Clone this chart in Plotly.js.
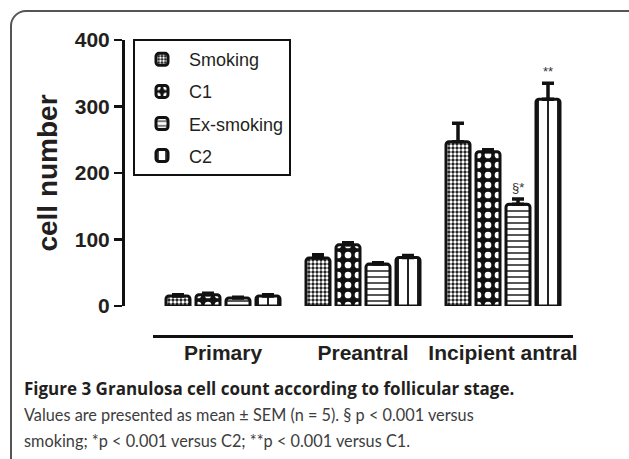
<!DOCTYPE html>
<html><head><meta charset="utf-8">
<script src="https://cdn.plot.ly/plotly-3.0.1.min.js"></script>
<style>
html,body{margin:0;padding:0;background:#fff;}
body{width:629px;height:459px;overflow:hidden;position:relative;}
#frame{position:absolute;left:10px;top:10px;width:700px;height:600px;border:2px solid #555;border-radius:16px;box-sizing:border-box;}
#plot{position:absolute;left:0;top:0;width:629px;height:459px;}
</style></head>
<body><div id="frame"></div><div id="plot"></div>
<script>
const categories = ['Primary', 'Preantral', 'Incipient antral'];
const seriesNames = ['Smoking', 'C1', 'Ex-smoking', 'C2'];
const smoking = [15, 72, 247];
const c1 = [17, 92, 232];
const exSmoking = [12, 63, 153];
const c2 = [15, 73, 311];
const smokingSem = [2, 5, 28];
const c1Sem = [2, 3, 3];
const exSmokingSem = [1, 2, 8];
const c2Sem = [2, 3, 24];
const noLowerError = [0, 0, 0];
const yTicks = [0, 100, 200, 300, 400];
const sigLabels = [null, null, '§*', '**'];

const W = 629, H = 459;
const M = {l: 123, r: 56, t: 40, b: 123};
const bargap = 1 - 120 / 140;
const ink = '#231f20';

const patterns = [
  {shape: '.', fgcolor: '#ffffff', bgcolor: '#111111', size: 4, solidity: 0.55},
  {shape: '.', fgcolor: '#ffffff', bgcolor: '#111111', size: 10, solidity: 0.35},
  {shape: '-', fgcolor: '#444444', bgcolor: '#ffffff', size: 6, solidity: 0.3},
  {shape: '|', fgcolor: '#222222', bgcolor: '#ffffff', size: 10, solidity: 0.2}
];
const values = [smoking, c1, exSmoking, c2];
const sems = [smokingSem, c1Sem, exSmokingSem, c2Sem];

const traces = seriesNames.map((name, i) => ({
  type: 'bar',
  name: name,
  x: categories,
  y: values[i],
  legendgroup: 'g' + i,
  marker: {
    color: '#ffffff',
    line: {color: '#111111', width: 3},
    pattern: Object.assign({fillmode: 'replace'}, patterns[i])
  },
  error_y: {
    type: 'data', symmetric: false,
    array: sems[i], arrayminus: noLowerError,
    color: '#111111', thickness: 3.5, width: 6
  },
  hoverinfo: 'x+y'
}));

const paperW = W - M.l - M.r;
const xDomain = [30 / paperW, 1];
const plotW = paperW * (xDomain[1] - xDomain[0]);
const slot = plotW / categories.length * (1 - bargap) / seriesNames.length;

const annotations = [];
sigLabels.forEach((lab, i) => {
  if (!lab) return;
  const k = categories.length - 1;
  annotations.push({
    x: categories[k], y: values[i][k] + sems[i][k],
    xref: 'x', yref: 'y',
    text: lab, showarrow: false,
    xshift: (i - (seriesNames.length - 1) / 2) * slot,
    yanchor: 'bottom', yshift: 2,
    font: {family: 'Liberation Sans, Arial, sans-serif', size: 13, color: '#333'}
  });
});
const captionX = 22 - M.l;
const axisBottom = H - M.b;
annotations.push({
  xref: 'paper', yref: 'paper', x: 0, y: 0, xanchor: 'left', yanchor: 'middle',
  xshift: captionX, yshift: -(388 - axisBottom),
  text: '<b>Figure 3 Granulosa cell count according to follicular stage.</b>',
  showarrow: false, align: 'left',
  font: {family: 'Open Sans, sans-serif', size: 17, color: '#231f20'}
});
annotations.push({
  xref: 'paper', yref: 'paper', x: 0, y: 0, xanchor: 'left', yanchor: 'middle',
  xshift: captionX, yshift: -(414 - axisBottom),
  text: 'Values are presented as mean ± SEM (n = 5). § p &lt; 0.001 versus',
  showarrow: false, align: 'left',
  font: {family: 'Lato, sans-serif', size: 16.3, color: '#3d3d3d'}
});
annotations.push({
  xref: 'paper', yref: 'paper', x: 0, y: 0, xanchor: 'left', yanchor: 'middle',
  xshift: captionX, yshift: -(440 - axisBottom),
  text: 'smoking; *p &lt; 0.001 versus C2; **p &lt; 0.001 versus C1.',
  showarrow: false, align: 'left',
  font: {family: 'Lato, sans-serif', size: 16.3, color: '#3d3d3d'}
});

const layout = {
  width: W, height: H,
  margin: M,
  paper_bgcolor: 'rgba(0,0,0,0)',
  plot_bgcolor: 'rgba(0,0,0,0)',
  barmode: 'group',
  bargap: bargap,
  bargroupgap: 0.2,
  barcornerradius: 3,
  showlegend: true,
  legend: {
    x: (133 - M.l) / paperW, y: 1.003, xanchor: 'left', yanchor: 'top',
    bordercolor: '#111', borderwidth: 2, bgcolor: '#fff',
    font: {family: 'Liberation Sans, Arial, sans-serif', size: 18, color: ink},
    traceorder: 'grouped', tracegroupgap: 5.7, itemwidth: 44
  },
  xaxis: {
    type: 'category',
    domain: xDomain,
    anchor: 'free', position: 0,
    showline: true, linecolor: '#111', linewidth: 2.5,
    ticks: '', showgrid: false, zeroline: false, ticklabelstandoff: -3,
    tickfont: {family: 'Liberation Sans, Arial, sans-serif', size: 21, color: ink, weight: 'bold'}
  },
  yaxis: {
    range: [0, 400],
    domain: [30 / (H - M.t - M.b), 1],
    anchor: 'free', position: 0,
    tickvals: yTicks,
    showline: true, linecolor: '#111', linewidth: 2.5,
    ticks: 'outside', ticklen: 8, tickwidth: 2.5, tickcolor: '#111',
    showgrid: false, zeroline: false,
    tickfont: {family: 'Liberation Sans, Arial, sans-serif', size: 21, color: ink, weight: 'bold'},
    title: {text: 'cell number', standoff: 8,
      font: {family: 'Liberation Sans, Arial, sans-serif', size: 28, color: ink, weight: 'bold'}}
  },
  annotations: annotations
};

Plotly.newPlot('plot', traces, layout, {displayModeBar: false, staticPlot: true});
</script>
</body></html>
